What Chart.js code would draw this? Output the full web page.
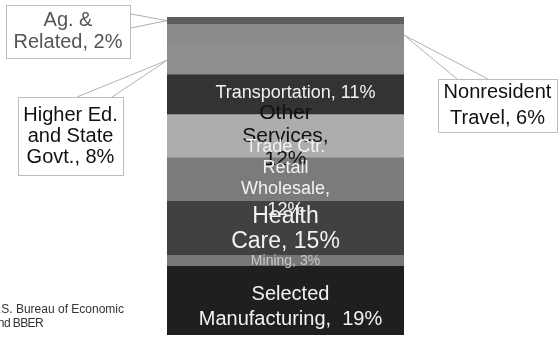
<!DOCTYPE html>
<html>
<head>
<meta charset="utf-8">
<script src="https://cdn.jsdelivr.net/npm/chart.js@4"></script>
<style>
  body{ margin:0; background:#fff; }
  #wrap{ width:559px; height:338px; position:relative; }
</style>
</head>
<body>
<div id="wrap"><canvas id="c"></canvas></div>
<script>
// data, bottom to top of the stacked bar
const categories = ["Total"];
const sectors = [
  "Selected Manufacturing", "Mining", "Health Care", "Retail Trade Ctr. Wholesale",
  "Other Services", "Transportation", "Higher Ed. and State Govt.", "Nonresident Travel", "Ag. & Related"
];
const shares = [19, 3, 15, 12, 12, 11, 8, 6, 2];
const fills = ["#1f1f1f", "#777777", "#414141", "#7b7b7b", "#adadad", "#333333", "#8e8e8e", "#8b8b8b", "#5e5e5e"];

// in-bar labels (index into sectors)
const inLabels = [
  { i:5, lines:["Transportation, 11%"], size:18, color:"#f2f2f2", dx:10, dy:-2, lh:20 },
  { i:4, lines:["Other","Services,","12%"], size:21, color:"#111", dx:0, dy:0, lh:23 },
  { i:3, lines:["Trade Ctr.","Retail","Wholesale,","12%"], size:18, color:"#f2f2f2", dx:0, dy:-1, lh:21 },
  { i:2, lines:["Health","Care, 15%"], size:23, color:"#f2f2f2", dx:0, dy:1, lh:25 },
  { i:1, lines:["Mining, 3%"], size:14, color:"#c8c8c8", dx:0, dy:0, lh:12 },
  { i:0, lines:["Selected","Manufacturing,  19%"], size:20, color:"#f2f2f2", dx:5, dy:6, lh:25 }
];

// callouts: box + pointer to a segment edge
const callouts = [
  { i:8, side:"left",  box:[6,5,124,53],   lines:["Ag. &","Related, 2%"], color:"#555", size:20, lh:22, tips:[[131,14],[131,28]] },
  { i:6, side:"left",  box:[18,97,105,78], lines:["Higher Ed.","and State","Govt., 8%"], color:"#111", size:20, lh:21, tips:[[77,97],[112,97]] },
  { i:7, side:"right", box:[438,79,119,53], lines:["Nonresident","Travel, 6%"], color:"#111", size:20, lh:26, tips:[[457,79],[488,79]] }
];

const FONT = "Arial, 'Liberation Sans', sans-serif";

const labelPlugin = {
  id:"labels",
  afterDatasetsDraw(chart){
    const ctx = chart.ctx;
    ctx.save();
    ctx.textAlign = "center";
    ctx.textBaseline = "middle";
    inLabels.forEach(l=>{
      const bar = chart.getDatasetMeta(l.i).data[0];
      const cy = (bar.y + bar.base)/2 + l.dy;
      const cx = bar.x + l.dx;
      ctx.font = l.size + "px " + FONT;
      ctx.fillStyle = l.color;
      const top = cy - (l.lines.length-1)*l.lh/2;
      l.lines.forEach((t,k)=> ctx.fillText(t, cx, top + k*l.lh));
    });

    // callouts
    callouts.forEach(c=>{
      const bar = chart.getDatasetMeta(c.i).data[0];
      const ax = c.side === "left" ? bar.x - bar.width/2 : bar.x + bar.width/2;
      const ay = (bar.y + bar.base)/2;
      ctx.strokeStyle = "#b0b0b0";
      ctx.lineWidth = 1;
      ctx.beginPath();
      c.tips.forEach(p=>{ ctx.moveTo(ax, ay); ctx.lineTo(p[0], p[1]); });
      ctx.stroke();
      ctx.fillStyle = "#fff";
      ctx.fillRect(c.box[0], c.box[1], c.box[2], c.box[3]);
      ctx.strokeStyle = "#bdbdbd";
      ctx.strokeRect(c.box[0]+0.5, c.box[1]+0.5, c.box[2], c.box[3]);
      ctx.font = c.size + "px " + FONT;
      ctx.fillStyle = c.color;
      const cx = c.box[0] + c.box[2]/2;
      const cy = c.box[1] + c.box[3]/2;
      const top = cy - (c.lines.length-1)*c.lh/2;
      c.lines.forEach((t,k)=> ctx.fillText(t, cx, top + k*c.lh));
    });

    // source note (cut off at the left edge)
    ctx.font = "12px " + FONT;
    ctx.fillStyle = "#333";
    ctx.textAlign = "right";
    ctx.fillText("U.S. Bureau of Economic", 124, 310);
    ctx.letterSpacing = "-0.6px";
    ctx.fillText("and BBER", 43, 324);
    ctx.restore();
  }
};

new Chart(document.getElementById("c"), {
  type:"bar",
  data:{
    labels: categories,
    datasets: sectors.map((s,i)=>({
      label: s,
      data: [shares[i]],
      backgroundColor: fills[i],
      borderWidth: 0,
      barPercentage: 1,
      categoryPercentage: 1
    }))
  },
  options:{
    responsive:true,
    maintainAspectRatio:false,
    animation:false,
    layout:{ padding:{ top:17, bottom:3, left:167, right:155 } },
    plugins:{ legend:{ display:false }, tooltip:{ enabled:false } },
    scales:{
      x:{ stacked:true, display:false },
      y:{ stacked:true, display:false, min:0, max:88 }
    }
  },
  plugins:[labelPlugin]
});
</script>
</body>
</html>
